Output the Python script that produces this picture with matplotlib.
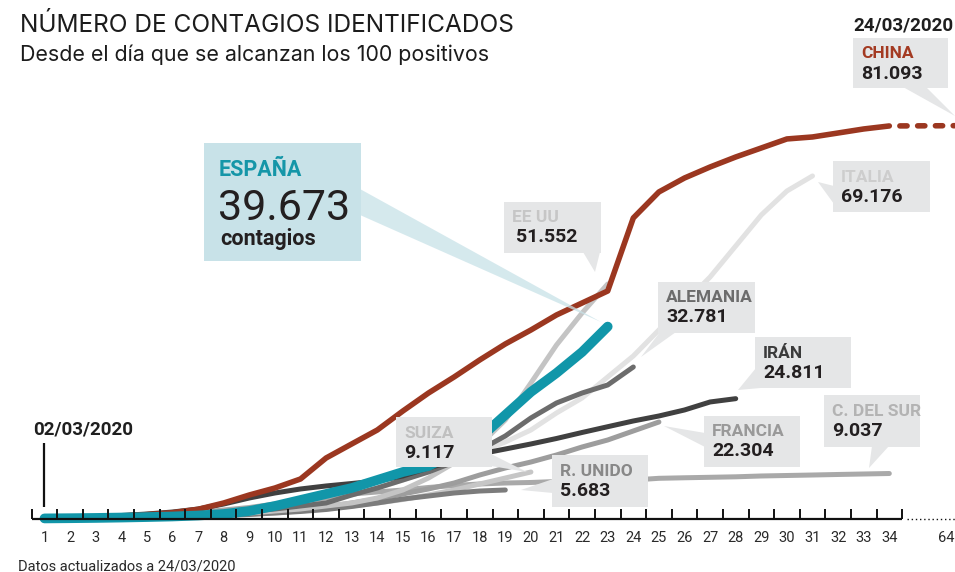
import matplotlib.pyplot as plt
from matplotlib.patches import Rectangle, Polygon

plt.rcParams['font.family'] = ['Roboto', 'DejaVu Sans']

# --- Datos (casos acumulados por día desde los 100 positivos) ---
dias = list(range(1, 35))

china = [150, 250, 400, 600, 900, 1300, 2000, 3300, 4950, 6390, 8250, 12580,
         15470, 18350, 22270, 25980, 29280, 32790, 36090, 38970, 42070, 44540,
         47010, 62070, 67430, 70310, 72580, 74640, 76500, 78360, 78770, 79590,
         80420, 81040]
china_final = 81093  # día 64

espana = [120, 165, 220, 300, 400, 520, 720, 1030, 1650, 2680, 3920, 5160, 6390,
          8040, 9690, 10930, 13610, 16700, 21450, 26190, 30100, 34430, 39673]

eeuu = [100, 200, 310, 410, 520, 620, 830, 1030, 1240, 1650, 2060, 2680, 3300,
        4330, 5980, 8450, 11550, 15260, 20410, 28040, 35880, 42480, 48460]

italia = [160, 310, 410, 520, 620, 830, 1030, 1340, 1750, 2270, 2890, 3920, 4950,
          6390, 8040, 9900, 11750, 13820, 15880, 18350, 21860, 24950, 29280,
          33610, 38970, 44540, 49900, 56290, 62690, 67630, 70730]

alemania = [130, 200, 310, 410, 620, 830, 1030, 1340, 1650, 2060, 2680, 3300,
            4950, 6390, 8040, 9690, 11750, 14230, 17120, 20830, 23920, 25980,
            27630, 31340]

iran = [140, 310, 410, 720, 1030, 1440, 2060, 3090, 4330, 5360, 6190, 6810, 7320,
        7840, 8870, 10520, 11960, 13400, 14430, 15470, 16600, 17840, 19030,
        20210, 21240, 22480, 24130, 24811]

francia = [100, 130, 190, 310, 410, 520, 720, 930, 1130, 1440, 1860, 2470, 3300,
           4120, 5160, 6190, 7420, 9070, 10520, 11750, 13200, 14850, 16290,
           18150, 20000]

reino_unido = [120, 160, 210, 310, 410, 520, 620, 720, 930, 1240, 1550, 1960,
               2580, 3300, 4120, 4740, 5360, 5770, 5980]

suiza = [110, 160, 210, 310, 410, 520, 620, 830, 1030, 1240, 1650, 2060, 2680,
         3300, 4020, 4950, 5980, 7220, 8450, 9690]

corea = [100, 200, 410, 620, 830, 1030, 1340, 1860, 2370, 3090, 3710, 4330, 5160,
         5570, 5980, 6500, 6910, 7220, 7420, 7530, 7730, 7840, 7940, 8040, 8390,
         8500, 8600, 8700, 8870, 8970, 9070, 9180, 9280, 9380]

# cifras de las etiquetas
totales = {'CHINA': 81093, 'ESPAÑA': 39673, 'EE UU': 51552, 'ITALIA': 69176,
           'ALEMANIA': 32781, 'IRÁN': 24811, 'FRANCIA': 22304, 'R. UNIDO': 5683,
           'SUIZA': 9117, 'C. DEL SUR': 9037}

W, H = 955, 572
fig = plt.figure(figsize=(W / 100, H / 100), dpi=100)
ax = fig.add_axes([0, 0, 1, 1])
ax.set_xlim(-0.738, 36.566)
ax.set_ylim(-10928, 107010)
ax.axis('off')


def fx(px):
    return px / W


def fy(py):
    return 1 - py / H


def miles(n):
    return f"{n:,}".replace(',', '.')


# --- Líneas ---
series = [
    (italia, '#e2e2e2', 3.6, 2),
    (corea, '#a9a9a9', 3.6, 2),
    (suiza, '#c6c6c6', 3.6, 2),
    (francia, '#9d9d9d', 3.6, 2),
    (reino_unido, '#7c7c7c', 3.6, 2),
    (eeuu, '#c4c4c4', 3.6, 2),
    (alemania, '#6c6c6c', 3.6, 2),
    (iran, '#404040', 3.6, 2),
    (china, '#9b3720', 4.0, 3),
    (espana, '#1196a9', 7.0, 4),
]
for valores, color, lw, z in series:
    ax.plot(dias[:len(valores)], valores, color=color, lw=lw, zorder=z,
            solid_capstyle='round', solid_joinstyle='round')

# tramo discontinuo de China hasta el día 64
ax.plot([dias[-1], ax.get_xlim()[1]], [china[-1], china_final], color='#9b3720',
        lw=4.0, ls=(1.3, (1.3, 1.9)), dash_capstyle='round', zorder=3)

# --- Eje X ---
ax.plot([dias[0] - 0.5, dias[-1] + 0.5], [0, 0], color='#111111', lw=1.6, zorder=6,
        solid_capstyle='butt')
ax.vlines([d - 0.5 for d in dias] + [dias[-1] + 0.5], 1 - 519 / H, 1 - 509 / H,
          transform=ax.get_xaxis_transform(), color='#111111', lw=1.4, zorder=6)
ax.plot([dias[-1] + 0.7, ax.get_xlim()[1]], [0, 0], color='#111111', lw=1.0,
        ls=(0, (1, 2)), zorder=6)
for d in dias:
    ax.text(d, 1 - 541.5 / H, str(d), transform=ax.get_xaxis_transform(),
            ha='center', va='baseline', fontsize=10.5, color='#2a2a2a')
ax.text(fx(954), fy(541.5), '64', transform=ax.transAxes, ha='right',
        va='baseline', fontsize=10.5, color='#2a2a2a')

# marca de inicio
ax.vlines(dias[0], 1 - 507 / H, 1 - 443 / H, transform=ax.get_xaxis_transform(),
          color='#111111', lw=1.6, zorder=6)
ax.text(fx(33), fy(435), '02/03/2020', transform=ax.transAxes, fontsize=13.5,
        fontweight='bold', color='#1f1f1f', va='baseline')
ax.text(fx(853), fy(30.5), '24/03/2020', transform=ax.transAxes, fontsize=13.5,
        fontweight='bold', color='#1f1f1f', va='baseline')

# --- Títulos ---
ax.text(fx(20), fy(31.5), 'NÚMERO DE CONTAGIOS IDENTIFICADOS', transform=ax.transAxes,
        fontsize=17.6, color='#1c1c1c', va='baseline', family=['Inter', 'DejaVu Sans'])
ax.text(fx(20), fy(61), 'Desde el día que se alcanzan los 100 positivos',
        transform=ax.transAxes, fontsize=15.4, color='#1c1c1c', va='baseline',
        family=['Inter', 'DejaVu Sans'])
ax.text(fx(18), fy(570.5), 'Datos actualizados a 24/03/2020', transform=ax.transAxes,
        fontsize=10.5, color='#2a2a2a', va='baseline')

# --- Etiquetas en caja ---
GRIS_CAJA = '#e5e6e7'


def caja(x0, y0, x1, y1, pico, nombre, color_nombre, dx=8, sangria=0):
    ax.add_patch(Rectangle((fx(x0), fy(y1)), (x1 - x0) / W, (y1 - y0) / H,
                           transform=ax.transAxes, fc=GRIS_CAJA, ec='none', zorder=7))
    ax.add_patch(Polygon([(fx(a), fy(b)) for a, b in pico], closed=True,
                         transform=ax.transAxes, fc=GRIS_CAJA, ec='none', zorder=7))
    ax.text(fx(x0 + dx), fy(y0 + 20.5), nombre, transform=ax.transAxes,
            fontsize=12.5, fontweight='bold', color=color_nombre, va='baseline', zorder=8)
    ax.text(fx(x0 + dx + sangria), fy(y0 + 40.5), miles(totales[nombre]),
            transform=ax.transAxes, fontsize=14, fontweight='bold', color='#231f20',
            va='baseline', zorder=8)


caja(853, 38, 948, 88, [(903, 87), (926, 87), (955, 116)], 'CHINA', '#a33a22')
caja(833, 161, 930, 212, [(834, 186), (834, 204), (818, 182)], 'ITALIA', '#cdcdcd')
caja(504, 202, 601, 253, [(583, 252), (600, 252), (595, 272)], 'EE UU', '#c6c6c6',
     sangria=4)
caja(658, 282, 755, 333, [(660, 332), (676, 332), (641, 357)], 'ALEMANIA', '#6c6c6c')
caja(755, 337, 851, 388, [(756, 368), (772, 387), (738, 390)], 'IRÁN', '#3a3a3a')
caja(704, 416, 800, 467, [(705, 433), (705, 447), (664, 426)], 'FRANCIA', '#999999')
caja(824, 395, 920, 447, [(872, 446), (889, 446), (869, 468)], 'C. DEL SUR', '#b3b3b3')
caja(552, 455, 648, 507, [(553, 479), (553, 493), (521, 490)], 'R. UNIDO', '#888888')
caja(396, 417, 492, 467, [(491, 454), (491, 466), (527, 472)], 'SUIZA', '#c0c0c0')

# caja destacada de España
AZUL_CAJA = '#c8e2e8'
ax.add_patch(Rectangle((fx(204), fy(261)), (361 - 204) / W, (261 - 143) / H,
                       transform=ax.transAxes, fc=AZUL_CAJA, ec='none', zorder=7))
ax.add_patch(Polygon([(fx(360), fy(189)), (fx(360), fy(215)), (fx(601), fy(322))],
                     closed=True, transform=ax.transAxes, fc=AZUL_CAJA, ec='none',
                     alpha=0.75, zorder=5))
ax.text(fx(219), fy(175.5), 'ESPAÑA', transform=ax.transAxes, fontsize=15.5,
        fontweight='bold', color='#1596a8', va='baseline', zorder=8)
ax.text(fx(218), fy(219.5), miles(totales['ESPAÑA']), transform=ax.transAxes,
        fontsize=31, color='#231f20', va='baseline', zorder=8)
ax.text(fx(220), fy(245.5), 'contagios', transform=ax.transAxes, fontsize=15.5,
        fontweight='bold', color='#231f20', va='baseline', zorder=8)

fig.savefig('out.png', dpi=100)
